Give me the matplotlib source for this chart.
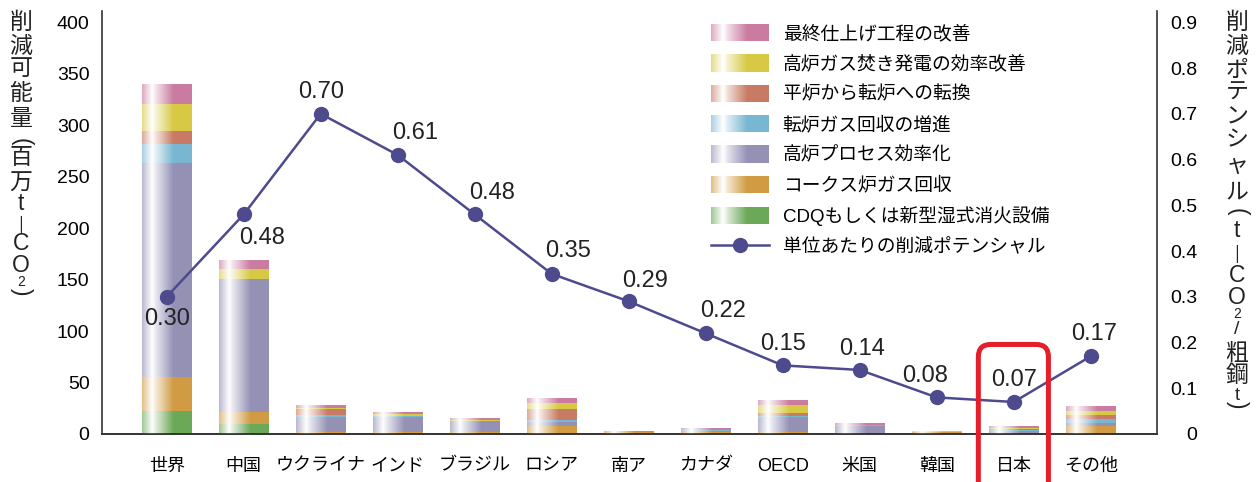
import numpy as np
import matplotlib
matplotlib.use("Agg")
import matplotlib.pyplot as plt
from matplotlib.patches import Patch, Rectangle, FancyBboxPatch
from matplotlib.lines import Line2D
from matplotlib.legend_handler import HandlerBase
from matplotlib.colors import to_rgb

plt.rcParams['font.family'] = ['Liberation Sans', 'Noto Sans CJK JP']

# ---------------------------------------------------------------- data
countries = ['世界', '中国', 'ウクライナ', 'インド', 'ブラジル', 'ロシア', '南ア',
             'カナダ', 'OECD', '米国', '韓国', '日本', 'その他']

# reduction potential by measure (million t-CO2), bottom -> top of stack
cdq        = [22, 10, 0,   0,   0,    0,    0,   0,   0,    0,   0,   0,   0]
coke_gas   = [33, 11, 2,   2,   1.95, 8.1,  1.5, 1.9, 2,    1,   1.9, 1.0, 8.1]
bf_process = [208, 130, 15, 15, 10.7, 3.6,  0.3, 1.0, 14.9, 6.5, 0,   2.0, 2.9]
bof_gas    = [19, 0,  1,   0.9, 0,    1.9,  0,   0.7, 0.9,  1,   0,   1.3, 3.9]
ohf_to_bof = [12, 0,  6.5, 0,   0,    10.7, 0,   0,   2.6,  0,   0,   0.6, 3.9]
bf_power   = [27, 9.5, 1,  1.3, 1,    5.5,  0.5, 0.6, 7.8,  0.6, 0.9, 1.3, 3.9]
finishing  = [19, 8.5, 2.9, 2.3, 1.95, 5.2, 0.9, 2.0, 4.8,  1.6, 0.4, 1.6, 4.9]

# reduction potential per unit (t-CO2 / t crude steel)
potential = [0.30, 0.48, 0.70, 0.61, 0.48, 0.35, 0.29, 0.22, 0.15, 0.14, 0.08, 0.07, 0.17]

series = [cdq, coke_gas, bf_process, bof_gas, ohf_to_bof, bf_power, finishing]
series_names = ['CDQもしくは新型湿式消火設備', 'コークス炉ガス回収', '高炉プロセス効率化',
                '転炉ガス回収の増進', '平炉から転炉への転換', '高炉ガス焚き発電の効率改善',
                '最終仕上げ工程の改善']
series_colors = ['#6BA858', '#D09B42', '#9491B5', '#79B6D1', '#C87B64', '#D7C944', '#C97BA0']
line_color = '#4E4A8E'
line_label = '単位あたりの削減ポテンシャル'

# label offsets in pixels (dx, dy) relative to each point
label_offsets = [(0, -22), (18, -24), (0, 22), (17, 22), (17, 21), (16, 23), (16, 20),
                 (17, 22), (0, 21), (2, 21), (-12, 21), (0, 22), (3, 22)]


def glow(f):
    # white highlight profile across the bar width
    return np.interp(f, [0, 0.14, 0.2, 0.27, 0.62, 1.0], [0.35, 0.8, 1.0, 0.8, 0.0, 0.0])


class GradientHandler(HandlerBase):
    def create_artists(self, legend, orig_handle, xdescent, ydescent,
                       width, height, fontsize, trans):
        base = np.array(to_rgb(orig_handle.get_facecolor()))
        n = 60
        arts = []
        for i in range(n):
            w = glow((i + 0.5) / n)
            c = base * (1 - w) + w
            arts.append(Rectangle((-xdescent + width * i / n, -ydescent),
                                  width / n * 1.1, height, facecolor=c,
                                  edgecolor='none', lw=0, transform=trans))
        return arts


W, H = 1258, 482
fig = plt.figure(figsize=(W / 100, H / 100), dpi=100)
ax = fig.add_axes([102 / W, 1 - 434 / H, (1157 - 102) / W, (434 - 11) / H])
ax2 = ax.twinx()

x = np.arange(len(countries))
bw = 0.65
bottom = np.zeros(len(countries))
for vals, col in zip(series, series_colors):
    vals = np.array(vals, float)
    ax.bar(x, vals, bw, bottom=bottom, color=col, linewidth=0, zorder=2)
    bottom += vals

shine = np.ones((1, 120, 4))
shine[0, :, 3] = glow((np.arange(120) + 0.5) / 120)
for xi, top in zip(x, bottom):
    ax.imshow(shine, extent=(xi - bw / 2, xi + bw / 2, 0, top), aspect='auto',
              interpolation='bilinear', zorder=3)

ax.set_xlim(-0.84, 12.86)
ax.set_ylim(0, 411)
ax.set_yticks(range(0, 401, 50))
ax.set_xticks(x)
ax.set_xticklabels(countries, fontsize=13)
ax.tick_params(axis='x', length=0, pad=17)
ax.tick_params(axis='y', length=0, pad=9, labelsize=14)

ax2.plot(x, potential, '-o', color=line_color, lw=1.8, ms=10, zorder=5)
ax2.set_ylim(0, 0.9 * 411 / 400)
ax2.set_yticks(np.arange(0, 0.95, 0.1))
ax2.set_yticklabels(['0'] + [f'{v:.1f}' for v in np.arange(0.1, 0.95, 0.1)])
ax2.tick_params(axis='y', length=0, pad=29, labelsize=14)
for lab in ax2.get_yticklabels():
    lab.set_ha('right')

for xi, v, (dx, dy) in zip(x, potential, label_offsets):
    ax2.annotate(f'{v:.2f}', (xi, v), xytext=(dx * 0.72, dy * 0.72),
                 textcoords='offset points', ha='center', va='center',
                 fontsize=17, color='#222222')

for a in (ax, ax2):
    a.spines['top'].set_visible(False)
    for s in ('left', 'right', 'bottom'):
        a.spines[s].set_color('#333333')
        a.spines[s].set_linewidth(1.2)
ax2.spines['left'].set_visible(False)
ax.spines['right'].set_visible(False)
ax.patch.set_visible(False)

# legend
handles = [Patch(facecolor=c, label=n) for c, n in zip(series_colors[::-1], series_names[::-1])]
handles.append(Line2D([], [], color=line_color, marker='o', lw=1.8, ms=10, label=line_label))
ax2.legend(handles=handles, loc='upper left', bbox_to_anchor=(711 / W, 1 - 24 / H),
           bbox_transform=fig.transFigure, frameon=False, fontsize=13.5,
           handlelength=3.1, handleheight=1.05, handletextpad=0.72, labelspacing=0.6,
           borderpad=0, borderaxespad=0, handler_map={Patch: GradientHandler()})

# red highlight around Japan
jp = countries.index('日本')
box = FancyBboxPatch((jp - 0.46, -60), 0.91, 147,
                     boxstyle='round,pad=0,rounding_size=0.16', mutation_aspect=74.8,
                     fill=False, ec='#E41E2B', lw=3.6, clip_on=False, zorder=8,
                     transform=ax.transData)
ax2.add_patch(box)

# vertical axis titles, one upright character at a time
left_title = [('削', 22.5, 16.5, 0), ('減', 46, 16.5, 0), ('可', 69, 16.5, 0),
              ('能', 93.5, 16.5, 0), ('量', 118.5, 16.5, 0), ('(', 142, 16.5, -90),
              ('百', 158, 16.5, 0), ('万', 183, 16.5, 0), ('t', 204, 16.5, 0),
              ('—', 224, 13, -90), ('C', 244, 16.5, 0), ('O', 265, 16.5, 0),
              ('2', 282, 10, 0), (')', 292, 16.5, -90)]
right_title = [('削', 22.5, 16.5, 0), ('減', 46, 16.5, 0), ('ポ', 70, 16.5, 0),
               ('テ', 92.5, 16.5, 0), ('ン', 117, 16.5, 0), ('シ', 140, 16.5, 0),
               ('ャ', 165.5, 16.5, 0), ('ル', 191.5, 16.5, 0), ('(', 212, 16.5, -90),
               ('t', 230, 16.5, 0), ('—', 253, 13, -90), ('C', 276, 16.5, 0),
               ('O', 297, 16.5, 0), ('2', 314, 10, 0), ('/', 330, 14, 0),
               ('粗', 353, 16.5, 0), ('鋼', 376, 16.5, 0), ('t', 395, 13, 0),
               (')', 405, 16.5, -90)]
for title, xp in ((left_title, 21), (right_title, 1237)):
    for ch, yp, fs, rot in title:
        fig.text(xp / W, 1 - yp / H, ch, fontsize=fs, rotation=rot,
                 ha='center', va='center', color='#222222')

fig.savefig('out.png', dpi=100)
